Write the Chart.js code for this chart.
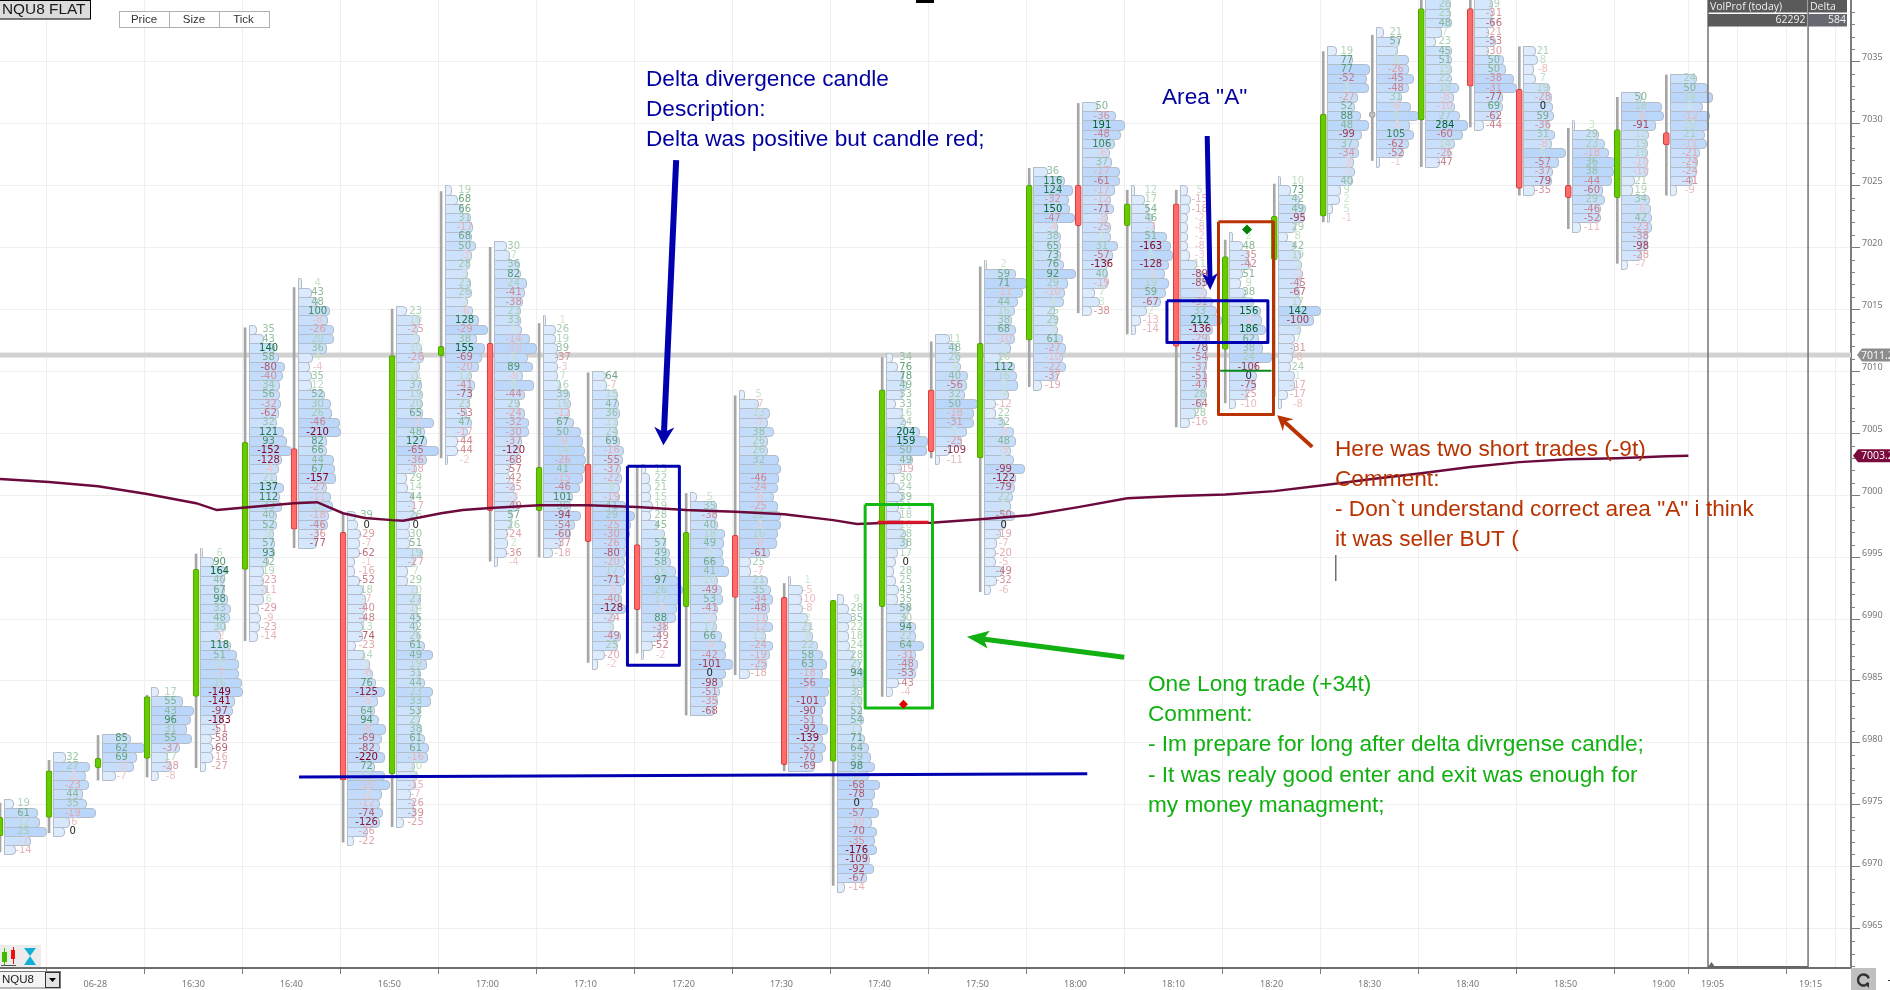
<!DOCTYPE html>
<html><head><meta charset="utf-8"><title>NQU8 footprint</title>
<style>html,body{margin:0;padding:0;background:#fff}canvas{display:block}</style>
<script src="https://cdn.jsdelivr.net/npm/chart.js@4"></script></head>
<body><canvas id="c" width="1890" height="990"></canvas>
<script>
// Minutes after 16:00 for each five-minute bar
const barMinutes=[10,15,20,25,30,35,40,45,50,55,60,65,70,75,80,85,90,95,100,105,110,115,120,125,130,135,140,145,150,155,160,165,170,175,180];
const opens=[6972.5,6974,6978,6978.75,6983.75,6994,7003.75,6997,6977.5,7011.25,7012.25,6998.75,7002.5,6996,6991,6996.75,6991.75,6978.5,6991,7008.5,7003,7012.5,7025,7021.75,7023.5,7011.75,7019,7022.5,7030.5,7030.25,7039.25,7032.75,7025,7024,7029.25];
const closes=[6974,6977.75,6978.75,6983.75,6994,7004.25,6997.25,6977,7011.25,7012,6998.75,7002.25,6996.25,6990.75,6997,6991.75,6978.25,6991.5,7008.5,7003.5,7012.25,7025,7021.75,7023.5,7012,7019.25,7022.5,7030.75,7030.5,7039.25,7033,7024.75,7024,7029.5,7028.25];
const highs=[6975.15,6978.6,6980.6,6983.85,6995.25,7013.5,7016.75,6998.5,7015,7024.5,7020,7013.85,7009.87,7002.25,7000.13,7008,6992.87,6991.5,7011.1,7012.37,7018.42,7026.36,7031.6,7024.6,7024.6,7020.58,7025.1,7035.78,7037.1,7040,7040,7036.18,7029.6,7032.1,7033.9];
const lows=[6971.2,6972.75,6977,6977.25,6978,6988.25,6995.75,6972,6973.25,7003,6994.67,6995,6986.5,6987.25,6982.25,6985.5,6977.75,6968.5,6983.75,7003,6992.2,7008.75,7014.7,7013,7005.5,7007.45,7008,7022.05,7027,7026.5,7029.7,7024.2,7021.5,7018.7,7024.2];
const rowTops=[6975.5,6979.25,6980.75,6984.5,6995.75,7013.75,7017.5,6998.75,7015.25,7025,7020.5,7014.5,7010,7002.5,7000.25,7008.5,6993.5,6992,7011.5,7013,7019,7026.5,7031.75,7025,7025,7021.25,7025.75,7036.25,7037.75,7040,7040,7036.25,7030.25,7032.5,7034];
const rowStep=0.75;
const barDeltas=[
[19,61,12,25,-7,-14],
[32,27,-1,-23,44,35,-19,-6,0],
[85,62,69,-3,-7],
[17,55,43,96,31,55,-37,17,-28,-8],
[6,90,164,40,67,98,33,48,30,-2,118,51,8,-7,16,-149,-141,-97,-183,-51,-58,-69,-16,-27],
[35,43,140,58,-80,-40,34,56,-32,-62,32,121,93,-152,-128,-4,21,137,112,33,40,52,9,57,93,42,19,-23,-11,6,-29,-9,-23,-14],
[4,43,48,100,-8,-26,20,36,4,-4,35,12,52,30,26,-46,-210,82,66,44,67,-157,-27,-11,12,-18,-46,-36,-77],
[39,0,-29,-7,-62,-1,-16,-52,18,-7,-40,-48,13,-74,-23,14,2,-6,76,-125,-5,64,94,-8,-69,-82,-220,72,12,-10,-2,-12,-74,-126,-26,-22],
[23,10,-25,1,10,-26,2,11,37,19,20,65,-2,48,127,-65,-36,-18,29,14,44,-17,26,0,30,51,19,-27,7,29,10,27,14,45,42,26,61,49,19,31,44,23,33,53,27,38,61,61,-16,10,5,-15,-7,-26,-39,-25],
[19,68,66,31,-17,68,50,-3,28,3,23,26,1,-6,128,-29,38,155,-69,-20,12,-41,-73,23,-53,47,-17,-44,-44,-2],
[30,7,36,82,24,-41,-38,23,33,1,-14,-10,5,89,-6,6,-44,29,-24,-32,-30,-37,-120,-68,-57,-42,-25,-3,-49,57,26,-24,2,-36,-4],
[1,26,19,39,-37,-3,7,16,39,16,-12,67,50,-9,14,-26,41,-15,-46,101,36,-94,-54,-60,-37,-18],
[64,-7,15,47,36,11,24,69,-16,-55,-37,-22,9,-19,41,29,-25,-30,-26,-80,-20,17,-71,-5,-40,-128,-24,4,-49,25,-20,-2],
[13,22,21,15,19,28,45,2,57,49,58,16,97,26,17,-1,88,-38,-49,-52,-2],
[5,35,-38,40,18,49,6,66,41,10,-49,53,-41,-1,17,66,-4,-42,-101,0,-98,-51,-35,-68],
[5,-7,13,-7,38,26,26,32,9,-46,-24,-6,-25,22,-1,16,-8,-61,25,-7,21,35,-34,-48,-11,-12,11,-24,-19,-25,-18],
[1,-5,-10,-8,2,21,8,22,58,63,-18,-56,-1,-101,-90,-51,-92,-139,-52,-70,-69],
[9,28,35,22,18,24,28,27,94,15,33,20,52,54,11,71,64,39,98,8,-68,-78,0,-57,-10,-70,-35,-176,-109,-92,-67,-14],
[34,76,78,49,33,33,16,24,204,159,50,49,-19,30,24,39,21,18,10,28,38,17,0,28,25,43,35,58,30,94,22,64,-31,-48,-53,-43,-4],
[11,48,26,4,40,-56,32,50,-18,-31,5,-25,-109,-11],
[2,59,71,-11,44,16,38,68,-10,1,16,112,16,3,4,-12,22,32,-2,48,-5,2,-99,-122,-79,22,1,-50,0,-19,-7,-20,-5,-49,-32,-6],
[36,116,124,-32,150,-47,-4,38,65,73,76,92,29,-10,4,25,29,3,61,-27,-10,-22,-37,-19],
[50,-36,191,-48,106,-6,37,-17,-61,-17,-12,-71,-8,-25,1,31,-57,-136,40,-19,7,3,-38],
[12,17,54,46,-7,51,-163,5,-128,-1,19,59,-67,2,-13,-14],
[5,-15,-18,-2,-8,-2,-8,-3,11,-89,-85,-2,-31,33,212,-136,-29,-78,-54,-37,-51,-47,28,-64,28,-16],
[2,48,-35,-42,51,9,38,5,156,-1,186,62,38,24,-106,0,-75,-25,-10],
[10,73,42,49,-95,29,8,42,19,3,-2,-45,-67,17,142,-100,7,7,-31,-8,24,1,-17,-17,-8],
[19,77,77,-52,3,-27,52,88,48,-99,37,-34,-3,-1,40,9,2,5,-1],
[21,57,7,9,-26,-45,-48,31,-6,9,-1,105,-62,-52,-1],
[26,23,48,7,23,45,51,15,22,18,-8,-10,27,284,-60,14,-26,-47],
[19,-31,-66,-21,-53,-30,50,50,-38,-31,-77,69,-62,-44],
[21,8,-8,7,19,-28,0,59,-36,31,-8,5,-57,-37,-79,-35],
[3,29,23,-18,36,38,-44,-60,29,-46,-52,-11],
[50,18,-6,-91,12,19,16,-10,-10,21,19,34,-6,42,-23,-38,-98,-28,-7],
[24,50,14,1,-12,10,21,-11,-21,-24,-24,-41,-9]
];
const barVolumes=[
[9,33,35,42,26,11],
[12,36,32,35,29,33,42,16,11],
[28,42,34,31,13],
[7,31,42,39,35,40,28,16,20,7],
[2,13,25,23,24,27,30,29,25,20,30,36,38,38,41,42,34,32,22,17,11,12,12,5],
[7,14,25,29,35,33,30,30,31,29,27,34,37,42,32,29,27,34,30,32,27,27,24,25,25,19,14,14,17,14,9,11,10,8],
[3,13,19,31,29,35,35,28,14,11,13,13,26,32,33,41,42,28,28,35,36,37,28,32,34,30,29,20,18],
[8,10,13,12,12,7,7,12,15,18,17,17,15,15,8,17,22,25,28,37,30,27,31,38,34,32,37,27,37,42,34,32,35,32,20,6],
[10,23,21,23,25,27,23,21,25,26,26,26,37,28,30,42,30,20,10,11,16,18,20,13,13,13,26,18,11,11,21,24,21,23,21,23,28,36,30,24,28,36,34,23,23,25,28,32,31,18,21,19,14,18,19,7],
[6,12,18,25,27,26,30,26,24,22,25,26,22,27,33,42,31,39,36,33,26,29,26,24,21,26,22,12,12,2],
[12,15,25,26,32,30,28,26,26,27,35,42,33,38,28,39,30,25,30,34,34,27,25,22,15,15,20,22,23,18,17,13,13,12,3],
[2,12,12,14,14,14,14,17,26,27,26,30,37,39,41,42,41,39,36,29,27,37,31,27,17,9],
[13,14,25,26,27,25,25,27,31,30,28,29,27,27,33,42,38,37,34,33,32,32,32,29,29,33,22,21,28,25,12,5],
[4,8,9,9,11,9,16,23,24,28,29,34,37,41,38,35,34,24,19,11,2],
[6,26,26,27,34,33,32,33,38,27,31,32,27,26,26,31,35,35,42,35,32,29,27,24],
[5,19,30,28,34,28,28,39,41,39,38,34,38,41,41,38,37,30,11,11,28,31,33,30,28,33,26,33,30,27,10],
[2,14,13,14,19,22,24,29,34,38,34,42,40,37,34,34,39,34,37,34,26],
[6,11,14,11,11,12,16,22,27,27,21,24,24,26,24,27,31,33,37,31,42,37,35,41,34,39,37,39,32,36,29,7],
[6,11,17,20,16,9,16,19,33,41,40,26,15,8,13,16,12,14,16,19,21,11,9,7,9,12,11,23,19,29,29,37,29,31,29,12,6],
[14,21,24,25,32,31,29,42,38,38,31,26,14,4],
[2,31,42,38,33,30,27,31,30,26,16,30,32,33,24,11,11,20,29,31,26,29,40,31,30,28,26,30,21,16,12,11,11,18,12,6],
[14,31,39,35,36,41,24,27,27,27,30,42,34,31,30,21,24,24,29,32,29,32,24,8],
[15,33,42,38,32,27,29,37,37,32,28,31,25,28,28,35,30,25,25,25,12,17,9],
[3,13,17,21,23,35,39,41,37,33,37,34,29,15,9,4],
[7,10,9,7,7,7,7,9,16,21,24,26,32,36,41,32,29,27,27,26,26,26,26,22,15,9],
[3,13,19,21,13,11,16,24,31,32,36,29,33,42,27,27,26,18,6],
[2,12,21,27,26,17,9,16,22,23,24,22,21,22,42,35,22,16,16,14,12,16,16,9,3],
[9,25,42,39,41,30,27,33,41,34,31,31,26,27,25,13,12,5,2],
[7,23,21,32,32,37,32,25,34,42,33,37,32,27,3],
[25,25,26,16,10,26,26,26,26,33,28,29,34,42,37,29,25,14],
[18,18,19,14,21,14,29,31,39,42,28,28,24,9],
[12,14,10,12,26,28,29,30,26,31,28,42,35,29,28,11],
[2,26,32,36,42,41,39,30,32,28,28,8],
[20,40,42,34,27,26,26,26,26,13,11,28,29,30,30,26,26,20,6],
[26,37,42,32,39,38,34,36,29,27,26,22,6]
];
const vwapMinutes=[10.28,15.28,20.28,25.28,30.28,32.4,35.28,40.28,42.62,45.28,47.5,50.28,51.4,55.28,57.5,60.28,65.28,70.28,75.28,80.28,85.28,90.28,95.28,97.7,100.28,105.28,110.28,115.28,120.28,125.28,130.28,135.28,140.28,145.28,150.28,155.28,160.28,165.28,170.28,175.28,180.28,182.53];
const vwapValues=[7001.29,7001.05,7000.72,7000.08,6999.35,6998.79,6998.99,6999.35,6999.43,6998.54,6998.16,6997.98,6997.93,6998.54,6998.79,6998.95,6999.19,6999.19,6999.03,6998.79,6998.65,6998.46,6997.98,6997.66,6997.74,6997.76,6998.06,6998.38,6999.03,6999.75,6999.92,7000.04,7000.32,7000.8,7001.29,7001.77,7002.26,7002.66,7002.9,7002.98,7003.14,7003.17];
const lastPrice=7011.3, vwapLast=7003.17;
const xTickValues=[20,30,40,50,60,70,80,90,100,110,120,130,140,150,160,170,180,185,190,195];
const xTickLabels=['06-28','16:30','16:40','16:50','17:00','17:10','17:20','17:30','17:40','17:50','18:00','18:10','18:20','18:30','18:40','18:50','19:00','19:05','','19:15'];
const panelMinutes=[184.53,194.74];
const headerTexts=['VolProf (today)','Delta','62292','584'];
const navyBoxA=[74.29,79.59,7002.33,6986.27];
const navyBoxB=[129.33,139.63,7015.68,7012.32];
const greenBox=[98.54,105.41,6999.24,6982.83];
const rustBox=[134.59,140.2,7022.05,7006.51];
const levelLineX=[40.79,121.2], levelLineY=[6977.26,6977.52];
const redStopX=[99.8,105], redStopY=[6997.8,6997.8];
const greenStopX=[134.76,140], greenStopY=[7010.03,7010.03];
const entryMarkers=[{x:137.5,y:7021.44}], exitMarkers=[{x:102.45,y:6983.13}];
const arrowFromX=[79.26,133.44,124.97,144.15], arrowFromY=[7027.03,7028.97,6986.92,7003.89];
const arrowToX=[77.96,133.74,108.92,140.58], arrowToY=[7004.03,7016.54,6988.56,7006.45];
const noteNavy1=['Delta divergence candle','Description:','Delta was positive but candle red;'];
const noteNavy2=['Area "A"'];
const noteRust=['Here was two short trades (-9t)','Comment:','- Don`t understand correct area "A" i think','it was seller BUT ('];
const noteGreen=['One Long trade (+34t)','Comment:','- Im prepare for long after delta divrgense candle;','- It was realy good enter and exit was enough for','my money managment;'];

// ---- styling and drawing ----
const candleShift=0.28, NAVY='#0000b0', RUST='#b83300', GREEN='#12b812';
const arrowStyles=[[NAVY,6,16,10],[NAVY,5,15,8],['#12b012',5,20,9],[RUST,4,13,8]];
const mix=(a,b,t)=>`rgb(${a.map((v,i)=>Math.round(v+(b[i]-v)*t)).join(',')})`;
function deltaColor(v){
  if(v===0) return '#222';
  const t=Math.pow(Math.min(1,Math.abs(v)/150),0.85);
  return v>0?mix([214,234,214],[0,100,45],t):mix([246,208,208],[125,0,28],t);
}
const boxLine=(b,c,w=3)=>({type:'line',data:[{x:b[0],y:b[2]},{x:b[1],y:b[2]},{x:b[1],y:b[3]},{x:b[0],y:b[3]},{x:b[0],y:b[2]}],borderColor:c,borderWidth:w,pointRadius:0,tension:0,order:1,borderJoinStyle:'round'});
const segLine=(xs,ys,c,w,o=1)=>({type:'line',data:xs.map((x,i)=>({x,y:ys[i]})),borderColor:c,borderWidth:w,pointRadius:0,tension:0,order:o});

const footprintPlugin={id:'footprint',
  beforeDraw(ch){const c=ch.ctx;c.save();c.fillStyle='#fff';c.fillRect(0,0,1890,990);c.restore();},
  beforeDatasetsDraw(ch){
    const c=ch.ctx,X=ch.scales.x,Y=ch.scales.y,A=ch.chartArea;
    c.save();c.beginPath();c.rect(A.left,A.top,A.right-A.left,A.bottom-A.top);c.clip();
    const gy=Y.getPixelForValue(lastPrice);
    c.fillStyle='#d2d2d2';c.fillRect(A.left,gy-2.5,A.right-A.left,5);
    c.lineWidth=1;
    barDeltas.forEach((rows,b)=>{
      const m=barMinutes[b]+candleShift,left=Math.round(X.getPixelForValue(m+0.36))+0.5;
      rows.forEach((d,i)=>{
        const top=Math.round(Y.getPixelForValue(rowTops[b]-i*rowStep))+0.5,
              bot=Math.round(Y.getPixelForValue(rowTops[b]-(i+1)*rowStep))+0.5,
              w=Math.max(2,barVolumes[b][i]),r=Math.min(3.5,w/2,(bot-top)/2);
        c.beginPath();c.roundRect(left,top,w,bot-top,[0,r,r,0]);
        c.fillStyle=mix([234,243,254],[186,214,250],Math.min(1,barVolumes[b][i]/42));c.fill();
        c.strokeStyle='#b3bdc9';c.stroke();
      });
    });
    c.font='10px "DejaVu Sans"';c.textAlign='center';c.textBaseline='middle';
    barDeltas.forEach((rows,b)=>{
      const px=X.getPixelForValue(barMinutes[b]+candleShift+2.4);
      rows.forEach((d,i)=>{
        const py=Y.getPixelForValue(rowTops[b]-(i+0.5)*rowStep);
        c.fillStyle=deltaColor(d);c.fillText(String(d),px,py+0.5);
      });
    });
    c.restore();
  },
  afterDatasetsDraw(ch){
    const c=ch.ctx,X=ch.scales.x,Y=ch.scales.y;
    arrowToX.forEach((_,i)=>{
      const x0=X.getPixelForValue(arrowFromX[i]),y0=Y.getPixelForValue(arrowFromY[i]),
            x1=X.getPixelForValue(arrowToX[i]),y1=Y.getPixelForValue(arrowToY[i]);
      const [col,w,L,H]=arrowStyles[i],a=Math.atan2(y1-y0,x1-x0),ca=Math.cos(a),sa=Math.sin(a);
      const bx=x1-ca*L,by=y1-sa*L;
      c.save();c.strokeStyle=col;c.fillStyle=col;c.lineWidth=w;c.beginPath();c.moveTo(x0,y0);c.lineTo(bx+ca*4,by+sa*4);c.stroke();
      c.beginPath();c.moveTo(x1,y1);c.lineTo(bx-sa*H-ca*2,by+ca*H-sa*2);c.lineTo(bx+ca*3,by+sa*3);c.lineTo(bx+sa*H-ca*2,by-ca*H-sa*2);c.closePath();c.fill();c.restore();
    });
    // minor price ticks
    c.save();c.strokeStyle='#808080';c.lineWidth=1;
    for(let v=6962;v<=7039;v++){ if(v%5===0)continue;const y=Math.round(Y.getPixelForValue(v))+0.5;c.beginPath();c.moveTo(1851,y);c.lineTo(1855,y);c.stroke();}
    c.restore();
    const notes=(lines,x,ys,col)=>{c.save();c.font='22.65px "Liberation Sans"';c.fillStyle=col;c.textAlign='left';c.textBaseline='middle';lines.forEach((s,i)=>c.fillText(s,x,ys[i]+1));c.restore();};
    notes(noteNavy1,646,[79,109,139],'#0000a0');
    notes(noteNavy2,1162,[97],'#0000a0');
    notes(noteRust,1335,[449,479,509,539],RUST);
    notes(noteGreen,1148,[684,714,744,774.5,804.5],'#10b010');
    c.save();c.fillStyle='#707070';c.fillRect(1335,555,1.5,26);c.restore();
  },
  afterDraw(ch){
    const c=ch.ctx;c.save();
    // header table
    c.fillStyle='#5a5a5a';c.fillRect(1708,0,99,12.5);c.fillRect(1708,14,99,12.5);c.fillRect(1808,0,39,12.5);c.fillStyle='#666a70';c.fillRect(1808,14,39,12.5);
    c.font='10.5px "Open Sans"';c.fillStyle='#f0f0f0';c.textBaseline='middle';c.textAlign='left';
    c.fillText(headerTexts[0],1710,7);c.fillText(headerTexts[1],1810,7);
    c.textAlign='right';c.fillText(headerTexts[2],1805.5,20.5);c.fillText(headerTexts[3],1846,20.5);
    // title box
    c.fillStyle='#dcdcdc';c.fillRect(0,0,91,19);c.strokeStyle='#000';c.lineWidth=1;c.strokeRect(-1,0.5,91.5,18.5);
    c.fillStyle='#1a1a1a';c.font='15.4px "Liberation Sans"';c.textAlign='left';c.fillText('NQU8 FLAT',2,10);
    // Price / Size / Tick
    c.fillStyle='#fff';c.fillRect(119.5,11.5,150,16);c.strokeStyle='#b0b0b0';c.strokeRect(119.5,11.5,150,16);
    [169.5,219.5].forEach(x=>{c.beginPath();c.moveTo(x,11.5);c.lineTo(x,27.5);c.stroke();});
    c.fillStyle='#333';c.font='11.5px "Liberation Sans"';c.textAlign='center';
    [['Price',144],['Size',194],['Tick',243.5]].forEach(([s,x])=>c.fillText(s,x,19.5));
    // top marker
    c.fillStyle='#000';c.fillRect(916,0,18,3);
    // bottom-left icons
    c.fillStyle='#ececec';c.fillRect(0,945,41,22);
    c.fillStyle='#44bb00';c.fillRect(2,952,5,10);c.fillRect(4,948,1,18);
    c.fillStyle='#ee1111';c.fillRect(11,950,4,9);c.fillRect(13,947,1,17);
    c.strokeStyle='#555';c.beginPath();c.moveTo(1,965.5);c.lineTo(16,965.5);c.stroke();
    c.fillStyle='#12b0d8';c.beginPath();c.moveTo(24,948);c.lineTo(36,948);c.lineTo(30,956);c.lineTo(36,965);c.lineTo(24,965);c.lineTo(30,956);c.closePath();c.fill();
    // symbol selector
    c.fillStyle='#f4f4f4';c.fillRect(0,971,61,17);c.strokeStyle='#777';c.strokeRect(-1,971.5,61.5,16.5);
    c.fillStyle='#e4e4e4';c.fillRect(45,972,15,15);c.strokeStyle='#333';c.strokeRect(45.5,972.5,14,15);
    c.fillStyle='#000';c.beginPath();c.moveTo(49,978);c.lineTo(56,978);c.lineTo(52.5,982);c.closePath();c.fill();
    c.fillStyle='#222';c.font='11.5px "Liberation Sans"';c.textAlign='left';c.fillText('NQU8',2,980);
    // reload button
    c.fillStyle='#c0c0c0';c.fillRect(1851,968,25,22);
    c.strokeStyle='#333';c.lineWidth=2.4;c.beginPath();c.arc(1863.5,980,5.5,0.5,Math.PI*1.9);c.stroke();
    c.fillStyle='#333';c.beginPath();c.moveTo(1869,983);c.lineTo(1865,984);c.lineTo(1869,988);c.closePath();c.fill();
    c.fillRect(1888,980,2,1);
    // range triangle
    c.fillStyle='#666';c.beginPath();c.moveTo(1711.5,962);c.lineTo(1708,967);c.lineTo(1715,967);c.closePath();c.fill();c.fillRect(1708,966,100,2);
    // price tags
    const Y=ch.scales.y;
    [[lastPrice,'#8c8c8c','7011.25',1857],[vwapLast,'#7a0a3e','7003.25',1853]].forEach(([p,col,s,x])=>{
      const y=Y.getPixelForValue(p);c.fillStyle=col;c.beginPath();c.moveTo(x,y);c.lineTo(x+5,y-6.5);c.lineTo(1890,y-6.5);c.lineTo(1890,y+6.5);c.lineTo(x+5,y+6.5);c.closePath();c.fill();
      c.fillStyle='#fff';c.font='10.5px "Open Sans"';c.textAlign='left';c.textBaseline='middle';c.fillText(s,1861,y+0.5);
    });
    c.restore();
  }
};

const zeroPad=s=>{s.paddingLeft=s.paddingRight=s.paddingTop=s.paddingBottom=0;};
const AXIS='#7a7a7a',GRID='#efefef';
new Chart(document.getElementById('c'),{
  type:'bar',
  plugins:[footprintPlugin],
  data:{datasets:[
    segLine([panelMinutes[0],panelMinutes[0]],[6961.84,7039.95],'#737373',1.5,30),
    segLine([panelMinutes[1],panelMinutes[1]],[6961.84,7039.95],'#737373',1.5,30),
    {type:'bar',label:'wick',data:barMinutes.map((m,i)=>({x:m+candleShift,y:[lows[i],highs[i]]})),backgroundColor:'#a6a6a6',barThickness:2,grouped:false,order:20},
    {type:'bar',label:'body',data:barMinutes.map((m,i)=>({x:m+candleShift,y:[opens[i],closes[i]]})),
      backgroundColor:barMinutes.map((_,i)=>opens[i]===closes[i]?'#c0c0c0':closes[i]>opens[i]?'#66cc00':'#ff6a6a'),
      borderColor:barMinutes.map((_,i)=>opens[i]===closes[i]?'#a0a0a0':closes[i]>opens[i]?'#4f9f00':'#d23a3a'),
      borderWidth:1,borderSkipped:false,borderRadius:2,barThickness:6,minBarLength:5,grouped:false,order:19},
    {type:'line',label:'vwap',data:vwapMinutes.map((x,i)=>({x,y:vwapValues[i]})),borderColor:'#6d0a3c',borderWidth:2.5,pointRadius:0,tension:0,order:5},
    segLine(levelLineX,levelLineY,NAVY,3),
    boxLine(navyBoxA,NAVY),boxLine(navyBoxB,NAVY),boxLine(greenBox,GREEN),boxLine(rustBox,RUST),
    segLine(redStopX,redStopY,'#e01426',3,0),
    segLine(greenStopX,greenStopY,'#0e8a1e',2,0),
    {type:'scatter',data:entryMarkers,pointStyle:'rectRot',pointRadius:5,backgroundColor:'#008000',borderWidth:0,order:0},
    {type:'scatter',data:exitMarkers,pointStyle:'rectRot',pointRadius:4.5,backgroundColor:'#e00000',borderWidth:0,order:0}
  ]},
  options:{
    responsive:false,animation:false,devicePixelRatio:1,
    layout:{padding:0,autoPadding:false},
    plugins:{legend:{display:false},tooltip:{enabled:false}},
    scales:{
      x:{type:'linear',min:10.276,max:199.12,offset:false,
        afterBuildTicks(s){s.ticks=xTickValues.map(value=>({value}));},
        afterFit(s){s.height=22;zeroPad(s);},
        grid:{color:GRID,tickLength:6,tickColor:ctx=>(ctx.tick&&xTickLabels[xTickValues.indexOf(ctx.tick.value)]!=='')?AXIS:'rgba(0,0,0,0)'},
        border:{color:'#6e6e6e',width:2},
        ticks:{autoSkip:false,maxRotation:0,minRotation:0,color:'#777',padding:5,font:{family:'"Noto Sans"',size:9},
          callback:v=>{const i=xTickValues.indexOf(v);return i<0?'':xTickLabels[i];}}
      },
      y:{type:'linear',position:'right',min:6961.84,max:7039.95,
        afterBuildTicks(s){const t=[];for(let v=6962;v<=7039;v++)t.push({value:v});s.ticks=t;},
        afterFit(s){s.width=39;zeroPad(s);},
        grid:{color:ctx=>ctx.tick&&ctx.tick.value%5===0?GRID:'rgba(0,0,0,0)',tickLength:9,tickColor:ctx=>ctx.tick&&ctx.tick.value%5===0?AXIS:'rgba(0,0,0,0)'},
        border:{color:'#7d7d7d',width:2},
        ticks:{autoSkip:false,color:'#777',padding:2,labelOffset:-3.5,font:{family:'"Noto Sans"',size:9},
          callback:v=>v%5===0?String(v):''}
      }
    }
  }
});
</script></body></html>
